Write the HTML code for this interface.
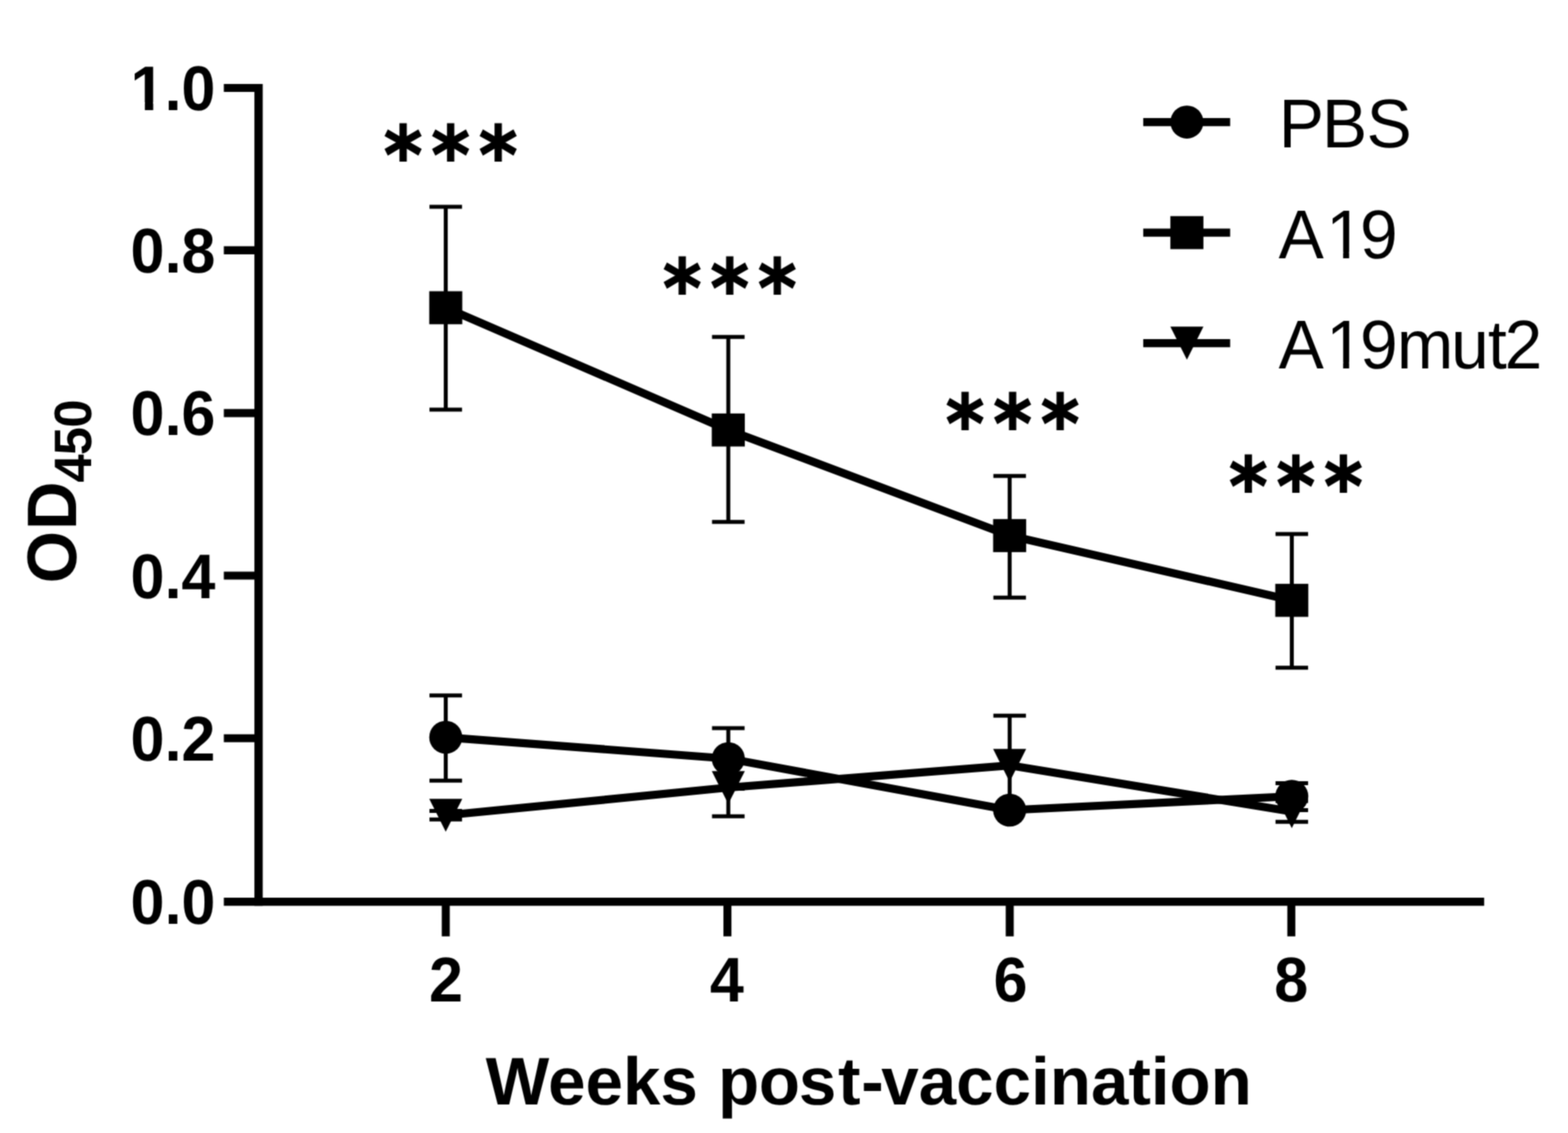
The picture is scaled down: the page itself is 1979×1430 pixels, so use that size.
<!DOCTYPE html>
<html lang="en"><head><meta charset="utf-8"><title>OD450 by weeks post-vaccination</title>
<style>
html,body{margin:0;padding:0;background:#fff;}
body{width:1979px;height:1430px;overflow:hidden;}
svg{display:block;}
text{font-family:"Liberation Sans",Arial,Helvetica,sans-serif;fill:#000;text-rendering:geometricPrecision;}
.tick{font-size:77px;font-weight:700;}
.title{font-size:85px;font-weight:700;}
.leg{font-size:85.5px;font-weight:400;}
.star{font-family:"DejaVu Sans","Liberation Sans",sans-serif;font-weight:700;font-size:100.5px;letter-spacing:12.4px;stroke:#000;stroke-width:1.7;stroke-linejoin:miter;}
.ln{stroke:#000;fill:none;}
</style></head><body>
<svg width="1979" height="1430" viewBox="0 0 1979 1430" role="img" aria-label="OD450 by weeks post-vaccination for PBS, A19 and A19mut2">
<defs><filter id="soft" x="0" y="0" width="1979" height="1430" filterUnits="userSpaceOnUse" color-interpolation-filters="sRGB"><feConvolveMatrix order="5" divisor="1" edgeMode="duplicate" preserveAlpha="true" kernelMatrix="0.00009 0.00198 0.00548 0.00198 0.00009 0.00198 0.04220 0.11707 0.04220 0.00198 0.00548 0.11707 0.32480 0.11707 0.00548 0.00198 0.04220 0.11707 0.04220 0.00198 0.00009 0.00198 0.00548 0.00198 0.00009"/></filter></defs>
<defs>
<clipPath id="footb" clipPathUnits="userSpaceOnUse"><path clip-rule="evenodd" d="M-4000 -4000H4000V4000H-4000ZM-104.20 -9.36H-89.07V3.00H-104.20ZM-78.51 -9.36H-64.36V3.00H-78.51Z"/></clipPath>
<clipPath id="footr" clipPathUnits="userSpaceOnUse"><path clip-rule="evenodd" d="M-4000 -4000H4000V4000H-4000ZM1678.21 -7.89H1695.20V3.00H1678.21ZM1702.76 -7.89H1719.08V3.00H1702.76Z"/></clipPath>
</defs>
<rect width="1979" height="1430" fill="#fff"/>
<g filter="url(#soft)">
<rect width="1979" height="1430" fill="#fff"/>
<g class="ln" stroke-width="10.50">
<line x1="326.33" y1="105.95" x2="326.33" y2="1143.20"/>
<line stroke-width="10.20" x1="282.50" y1="1138.10" x2="1873.20" y2="1138.10"/>
</g>
<g class="ln" stroke-width="10.10">
<line x1="282.50" y1="111.00" x2="326.33" y2="111.00"/>
<line x1="282.50" y1="315.90" x2="326.33" y2="315.90"/>
<line x1="282.50" y1="521.40" x2="326.33" y2="521.40"/>
<line x1="282.50" y1="726.50" x2="326.33" y2="726.50"/>
<line x1="282.50" y1="931.70" x2="326.33" y2="931.70"/>
<line x1="562.60" y1="1138.10" x2="562.60" y2="1181.80"/>
<line x1="918.10" y1="1138.10" x2="918.10" y2="1181.80"/>
<line x1="1274.40" y1="1138.10" x2="1274.40" y2="1181.80"/>
<line x1="1629.80" y1="1138.10" x2="1629.80" y2="1181.80"/>
</g>
<g class="tick" text-anchor="end">
<text transform="translate(271.9 138.60) scale(1 1.035)" clip-path="url(#footb)">1.0</text>
<text transform="translate(271.9 344.00) scale(1 1.035)">0.8</text>
<text transform="translate(271.9 549.40) scale(1 1.035)">0.6</text>
<text transform="translate(271.9 754.80) scale(1 1.035)">0.4</text>
<text transform="translate(271.9 960.20) scale(1 1.035)">0.2</text>
<text transform="translate(271.9 1165.60) scale(1 1.035)">0.0</text>
</g>
<g class="tick" text-anchor="middle">
<text transform="translate(562.90 1264) scale(1 1.035)">2</text>
<text transform="translate(917.40 1264) scale(1 1.035)">4</text>
<text transform="translate(1275.40 1264) scale(1 1.035)">6</text>
<text transform="translate(1629.70 1264) scale(1 1.035)">8</text>
</g>
<text class="title" text-anchor="middle" x="1096.5" y="1393.6" dx="0 0 0 0 0 0 1.7 -0.5 -1.2 2 1 -3">Weeks post-vaccination</text>
<text class="title" transform="translate(95.8 736.3) rotate(-90) scale(1 1.04)" dx="0 1.2">OD<tspan font-size="64" letter-spacing="-1.1" dy="18.8" dx="-1.4 0 0.3">450</tspan></text>
<g class="ln">
<path stroke-width="5.00" d="M562.60 877.80V985.20M542.05 877.80H583.15M542.05 985.20H583.15"/>
<path stroke-width="5.00" d="M919.20 919.10V995.50M898.65 919.10H939.75M898.65 995.50H939.75"/>
<path stroke-width="5.00" d="M1630.40 988.50V1022.50M1609.85 988.50H1650.95M1609.85 1022.50H1650.95"/>
<polyline stroke-width="10.20" stroke-linejoin="round" points="562.60,930.60 919.20,957.50 1274.30,1022.50 1630.40,1005.00"/>
</g>
<circle cx="562.60" cy="930.60" r="20.85"/>
<circle cx="919.20" cy="957.50" r="20.85"/>
<circle cx="1274.30" cy="1022.50" r="20.85"/>
<circle cx="1630.40" cy="1005.00" r="20.85"/>
<g class="ln">
<path stroke-width="5.00" d="M562.60 260.90V517.00M542.05 260.90H583.15M542.05 517.00H583.15"/>
<path stroke-width="5.00" d="M919.20 425.30V658.80M898.65 425.30H939.75M898.65 658.80H939.75"/>
<path stroke-width="5.00" d="M1274.30 600.80V754.20M1253.75 600.80H1294.85M1253.75 754.20H1294.85"/>
<path stroke-width="5.00" d="M1630.40 674.00V842.70M1609.85 674.00H1650.95M1609.85 842.70H1650.95"/>
<polyline stroke-width="10.20" stroke-linejoin="round" points="562.60,388.40 919.20,542.70 1274.30,676.00 1630.40,757.70"/>
</g>
<rect x="541.75" y="367.55" width="41.70" height="41.70"/>
<rect x="898.35" y="521.85" width="41.70" height="41.70"/>
<rect x="1253.45" y="655.15" width="41.70" height="41.70"/>
<rect x="1609.55" y="736.85" width="41.70" height="41.70"/>
<g class="ln">
<path stroke-width="5.00" d="M562.60 1023.50V1034.20M542.05 1023.50H583.15M542.05 1034.20H583.15"/>
<path stroke-width="5.00" d="M919.20 957.50V1030.30M898.65 957.50H939.75M898.65 1030.30H939.75"/>
<path stroke-width="5.00" d="M1274.30 903.30V1022.50M1253.75 903.30H1294.85M1253.75 1022.50H1294.85"/>
<path stroke-width="5.00" d="M1630.40 1011.00V1037.30M1609.85 1011.00H1650.95M1609.85 1037.30H1650.95"/>
<polyline stroke-width="10.20" stroke-linejoin="round" points="562.60,1029.00 919.20,994.00 1274.30,966.00 1630.40,1024.30"/>
</g>
<path d="M541.75 1008.15H583.45L562.60 1049.85Z"/>
<path d="M898.35 973.15H940.05L919.20 1014.85Z"/>
<path d="M1253.45 945.15H1295.15L1274.30 986.85Z"/>
<path d="M1609.55 1003.45H1651.25L1630.40 1045.15Z"/>
<text class="star" text-anchor="middle" transform="translate(568.80 231.06) scale(0.924 1)" x="6.20">***</text>
<text class="star" text-anchor="middle" transform="translate(921.00 398.86) scale(0.924 1)" x="6.20">***</text>
<text class="star" text-anchor="middle" transform="translate(1278.10 570.25) scale(0.924 1)" x="6.20">***</text>
<text class="star" text-anchor="middle" transform="translate(1635.60 648.65) scale(0.924 1)" x="6.20">***</text>
<line class="ln" stroke-width="10.20" x1="1442.9" y1="154.10" x2="1552.6" y2="154.10"/>
<circle cx="1498.00" cy="154.10" r="20.85"/>
<text class="leg" transform="translate(0 185.70) scale(1 1.02)" x="1614.0 1668.6 1724.7">PBS</text>
<line class="ln" stroke-width="10.20" x1="1442.9" y1="293.60" x2="1552.6" y2="293.60"/>
<rect x="1477.15" y="272.75" width="41.70" height="41.70"/>
<text class="leg" transform="translate(0 326.00) scale(1 1.02)" x="1613.7 1673.7 1716.4" clip-path="url(#footr)">A19</text>
<line class="ln" stroke-width="10.20" x1="1442.9" y1="433.10" x2="1552.6" y2="433.10"/>
<path d="M1477.15 412.25H1518.85L1498.00 453.95Z"/>
<text class="leg" transform="translate(0 465.30) scale(1 1.02)" x="1613.7 1673.7 1716.4 1762.9 1831.4 1878.0 1898.9" clip-path="url(#footr)">A19mut2</text>
</g>
</svg>
</body></html>
